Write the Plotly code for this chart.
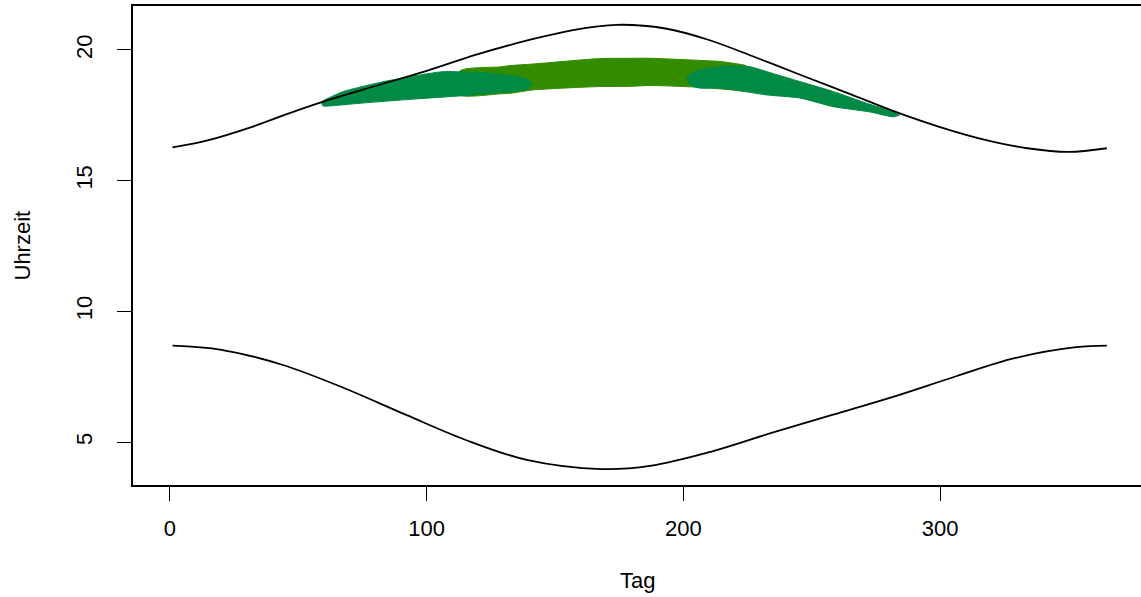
import plotly.graph_objects as go

# Sunset (upper curve) and sunrise (lower curve)
set_days = [1, 15, 32, 46, 60, 80, 100, 120, 140, 157, 174, 193, 210, 228, 245, 264, 283, 300, 318, 334, 350, 365]
set_hours = [16.27, 16.55, 17.06, 17.56, 18.03, 18.62, 19.20, 19.84, 20.38, 20.76, 20.96, 20.82, 20.38, 19.72,
             19.07, 18.35, 17.62, 17.05, 16.55, 16.24, 16.10, 16.24]

rise_days = [1, 20, 44, 68, 92, 115, 139, 168, 187, 211, 234, 258, 282, 306, 329, 353, 365]
rise_hours = [8.69, 8.53, 7.95, 7.06, 6.04, 5.09, 4.32, 3.97, 4.09, 4.64, 5.34, 6.04, 6.74, 7.51, 8.21, 8.63, 8.69]

# Green band: olive middle part (upper / lower edges)
mid_days = [113, 128.6, 132.4, 141.4, 167.5, 177.9, 187, 206.5, 214.3, 219.3, 225]
mid_upper = [19.20, 19.35, 19.40, 19.46, 19.67, 19.68, 19.68, 19.60, 19.56, 19.49, 19.36]
mid_lower = [18.28, 18.32, 18.34, 18.47, 18.60, 18.60, 18.64, 18.57, 18.51, 18.47, 18.45]

# Left dark-green part
left_up_days = [59.1, 63.5, 67.5, 80.5, 93.5, 106.5, 115.6, 124.7, 131.2, 136.4, 139.5, 141.4]
left_upper = [18.01, 18.24, 18.41, 18.73, 18.98, 19.17, 19.15, 19.11, 19.04, 18.96, 18.85, 18.70]
left_lo_days = [59.6, 62.3, 74, 93.5, 115.6, 128.6, 134.4, 139.0, 141.4]
left_lower = [17.86, 17.86, 17.96, 18.11, 18.26, 18.37, 18.41, 18.51, 18.70]

# Right dark-green part
right_up_days = [201.3, 202.6, 206.5, 214.3, 219.5, 226, 232.5, 245.4, 258.4, 271.4, 281.8, 284.4]
right_upper = [18.91, 19.08, 19.24, 19.36, 19.38, 19.36, 19.17, 18.79, 18.41, 17.96, 17.64, 17.51]
right_lo_days = [201.3, 202.6, 206.5, 214.3, 232.5, 245.4, 258.4, 272.7, 281.8, 284.4]
right_lower = [18.91, 18.66, 18.54, 18.54, 18.28, 18.16, 17.83, 17.63, 17.44, 17.51]

x_ticks = [0, 100, 200, 300]
y_ticks = [5, 10, 15, 20]

DARK = "#008A45"
OLIVE = "#338B00"
FONT = "Liberation Sans, Arial, Helvetica, sans-serif"

fig = go.Figure()


def band(up_d, up_v, lo_d, lo_v, color):
    xs = list(up_d) + list(reversed(lo_d))
    ys = list(up_v) + list(reversed(lo_v))
    xs.append(xs[0])
    ys.append(ys[0])
    return go.Scatter(x=xs, y=ys, mode="lines", fill="toself", fillcolor=color,
                      line=dict(color=color, width=1, shape="spline", smoothing=0.6),
                      hoverinfo="skip", showlegend=False)


fig.add_trace(band(mid_days, mid_upper, mid_days, mid_lower, OLIVE))
fig.add_trace(band(left_up_days, left_upper, left_lo_days, left_lower, DARK))
fig.add_trace(band(right_up_days, right_upper, right_lo_days, right_lower, DARK))

fig.add_trace(go.Scatter(x=set_days, y=set_hours, mode="lines",
                         line=dict(color="black", width=1.8, shape="spline", smoothing=1.0),
                         showlegend=False))
fig.add_trace(go.Scatter(x=rise_days, y=rise_hours, mode="lines",
                         line=dict(color="black", width=1.8, shape="spline", smoothing=1.0),
                         showlegend=False))

fig.update_layout(
    width=1141, height=597,
    margin=dict(l=133, r=0, t=6, b=112),
    paper_bgcolor="white", plot_bgcolor="white",
    font=dict(family=FONT, size=22, color="black"),
    xaxis=dict(range=[-14.41, 378.3], tickvals=x_ticks, ticks="outside", ticklen=14,
               tickcolor="black", tickwidth=1.3, showline=True, mirror=True,
               linecolor="black", linewidth=1.8, showgrid=False, zeroline=False,
               ticklabelstandoff=9),
    yaxis=dict(range=[3.36, 21.68], tickvals=y_ticks, ticks="outside", ticklen=14,
               tickcolor="black", tickwidth=1.3, showline=True, mirror=False,
               linecolor="black", linewidth=1.8, showgrid=False, zeroline=False,
               tickangle=-90, ticklabelstandoff=16),
    annotations=[
        dict(text="Tag", xref="paper", yref="paper", x=0.5, y=0, yshift=-95,
             showarrow=False, xanchor="center", yanchor="middle", font=dict(size=22)),
        dict(text="Uhrzeit", xref="paper", yref="paper", x=0, y=0.5, xshift=-111,
             textangle=-90, showarrow=False, xanchor="center", yanchor="middle",
             font=dict(size=22)),
    ],
)

fig.write_html("out.html")
